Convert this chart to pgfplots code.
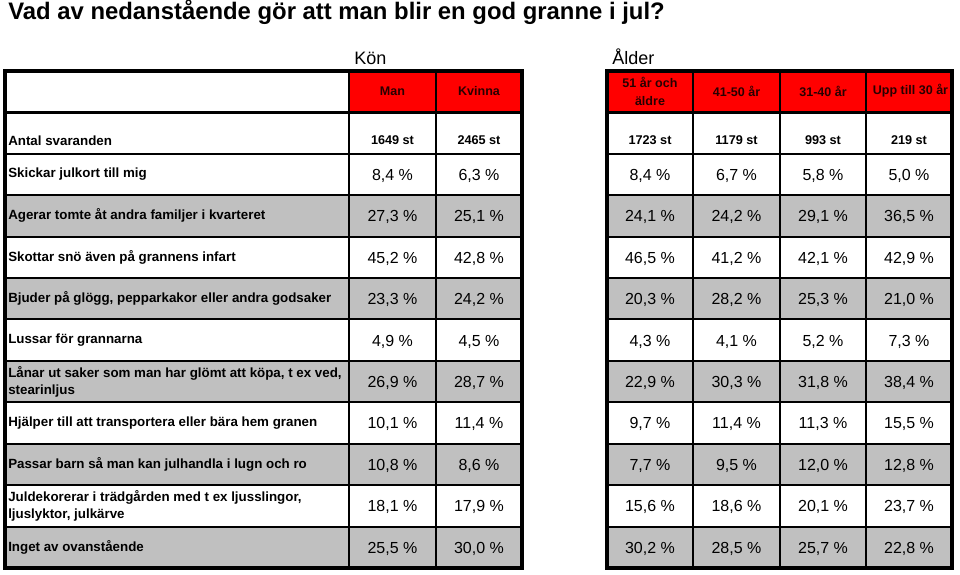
\documentclass[border=0pt]{standalone}
\usepackage{fontspec}
\setmainfont{Liberation Sans}
\usepackage{pgfplots}
\pgfplotsset{compat=1.18}
\definecolor{hdrred}{RGB}{255,0,0}
\definecolor{rowgray}{RGB}{192,192,192}
\definecolor{hdrtxt}{RGB}{40,0,0}
\protected\def\NL{\\}
\newcommand\cellfill[5]{\addplot[fill=#1,draw=none] coordinates {(#2,#3)(#4,#3)(#4,#5)(#2,#5)} -- cycle;}
\begin{document}
\begin{tikzpicture}
\begin{axis}[
  hide axis, scale only axis, width=720pt, height=429.75pt,
  xmin=0, xmax=960, ymin=0, ymax=573, y dir=reverse, clip=false,
  unbounded coords=jump,
]
% background
\cellfill{white}{0}{0}{960}{573}
% header fills
\cellfill{hdrred}{349}{70}{522}{111}
\cellfill{hdrred}{607}{70}{952}{111}
% gray rows
\cellfill{rowgray}{5}{194}{522}{235.4}
\cellfill{rowgray}{607}{194}{952}{235.4}
\cellfill{rowgray}{5}{276.8}{522}{318.3}
\cellfill{rowgray}{607}{276.8}{952}{318.3}
\cellfill{rowgray}{5}{359.7}{522}{401.2}
\cellfill{rowgray}{607}{359.7}{952}{401.2}
\cellfill{rowgray}{5}{442.6}{522}{484}
\cellfill{rowgray}{607}{442.6}{952}{484}
\cellfill{rowgray}{5}{525.5}{522}{567}
\cellfill{rowgray}{607}{525.5}{952}{567}
% thin grid lines
\addplot[black, line width=1.5pt, no marks] coordinates {
 (349,70)(349,567) (nan,nan) (436,70)(436,567) (nan,nan)
 (693,70)(693,567) (nan,nan) (780,70)(780,567) (nan,nan) (866,70)(866,567) (nan,nan)
 (5,152.5)(522,152.5) (nan,nan) (607,152.5)(952,152.5) (nan,nan)
 (5,194)(522,194) (nan,nan) (607,194)(952,194) (nan,nan)
 (5,235.4)(522,235.4) (nan,nan) (607,235.4)(952,235.4) (nan,nan)
 (5,276.8)(522,276.8) (nan,nan) (607,276.8)(952,276.8) (nan,nan)
 (5,318.3)(522,318.3) (nan,nan) (607,318.3)(952,318.3) (nan,nan)
 (5,359.7)(522,359.7) (nan,nan) (607,359.7)(952,359.7) (nan,nan)
 (5,401.2)(522,401.2) (nan,nan) (607,401.2)(952,401.2) (nan,nan)
 (5,442.6)(522,442.6) (nan,nan) (607,442.6)(952,442.6) (nan,nan)
 (5,484)(522,484) (nan,nan) (607,484)(952,484) (nan,nan)
 (5,525.5)(522,525.5) (nan,nan) (607,525.5)(952,525.5)
};
% header bottom lines
\addplot[black, line width=2.2pt, no marks] coordinates {
 (5,111)(522,111) (nan,nan) (607,111)(952,111)
};
% outer borders
\addplot[black, line width=2.6pt, no marks] coordinates {(5,70)(522,70)(522,567)(5,567)} -- cycle;
\addplot[black, line width=2.6pt, no marks] coordinates {(607,70)(952,70)(952,567)(607,567)} -- cycle;
% title
\addplot[draw=none, no marks, nodes near coords, point meta=explicit symbolic,
  every node near coord/.append style={anchor=base west, inner sep=0pt, text=black,
  font=\fontsize{17.9}{20}\selectfont\bfseries}]
  coordinates {(8,18.5) [Vad av nedanstående gör att man blir en god granne i jul?]};
% group headers
\addplot[draw=none, no marks, nodes near coords, point meta=explicit symbolic,
  every node near coord/.append style={anchor=base west, inner sep=0pt, text=black,
  font=\fontsize{13.5}{16}\selectfont}]
  coordinates {(354,63) [Kön] (612,63) [Ålder]};
% column headers
\addplot[draw=none, no marks, nodes near coords, point meta=explicit symbolic,
  every node near coord/.append style={anchor=center, inner sep=0pt, text=hdrtxt, align=center,
  font=\fontsize{9.4}{13.5}\selectfont\bfseries}]
  coordinates {(392.5,90) [Man] (479,90) [Kvinna] (650,90) [51 år och\NL äldre]
  (736.5,90) [41-50 år] (823,90) [31-40 år] (910.5,90) [Upp till 30 år]};
% row labels
\addplot[draw=none, no marks, nodes near coords, point meta=explicit symbolic,
  every node near coord/.append style={anchor=west, inner sep=0pt, text=black, align=left,
  font=\fontsize{10}{12.8}\selectfont\bfseries}]
  coordinates {
  (8,140) [Antal svaranden]
  (8,173) [Skickar julkort till mig]
  (8,214.5) [Agerar tomte åt andra familjer i kvarteret]
  (8,256) [Skottar snö även på grannens infart]
  (8,297.5) [Bjuder på glögg, pepparkakor eller andra godsaker]
  (8,339) [Lussar för grannarna]
  (8,380.5) [Lånar ut saker som man har glömt att köpa, t ex ved,\NL stearinljus]
  (8,421.5) [Hjälper till att transportera eller bära hem granen]
  (8,463) [Passar barn så man kan julhandla i lugn och ro]
  (8,504.5) [Juldekorerar i trädgården med t ex ljusslingor,\NL ljuslyktor, julkärve]
  (8,546) [Inget av ovanstående]
  };
% counts
\addplot[draw=none, no marks, nodes near coords, point meta=explicit symbolic,
  every node near coord/.append style={anchor=center, inner sep=0pt, text=black,
  font=\fontsize{9.5}{11}\selectfont\bfseries}]
  coordinates {(392.5,139.5) [1649 st] (479,139.5) [2465 st] (650,139.5) [1723 st]
  (736.5,139.5) [1179 st] (823,139.5) [993 st] (909,139.5) [219 st]};
% percentages
\addplot[draw=none, no marks, nodes near coords, point meta=explicit symbolic,
  every node near coord/.append style={anchor=center, inner sep=0pt, text=black,
  font=\fontsize{12}{14}\selectfont}]
  coordinates {
  (392.5,174.5) [8,4 \%] (479,174.5) [6,3 \%] (650,174.5) [8,4 \%] (736.5,174.5) [6,7 \%] (823,174.5) [5,8 \%] (909,174.5) [5,0 \%]
  (392.5,216) [27,3 \%] (479,216) [25,1 \%] (650,216) [24,1 \%] (736.5,216) [24,2 \%] (823,216) [29,1 \%] (909,216) [36,5 \%]
  (392.5,257.5) [45,2 \%] (479,257.5) [42,8 \%] (650,257.5) [46,5 \%] (736.5,257.5) [41,2 \%] (823,257.5) [42,1 \%] (909,257.5) [42,9 \%]
  (392.5,299) [23,3 \%] (479,299) [24,2 \%] (650,299) [20,3 \%] (736.5,299) [28,2 \%] (823,299) [25,3 \%] (909,299) [21,0 \%]
  (392.5,340.5) [4,9 \%] (479,340.5) [4,5 \%] (650,340.5) [4,3 \%] (736.5,340.5) [4,1 \%] (823,340.5) [5,2 \%] (909,340.5) [7,3 \%]
  (392.5,382) [26,9 \%] (479,382) [28,7 \%] (650,382) [22,9 \%] (736.5,382) [30,3 \%] (823,382) [31,8 \%] (909,382) [38,4 \%]
  (392.5,423) [10,1 \%] (479,423) [11,4 \%] (650,423) [9,7 \%] (736.5,423) [11,4 \%] (823,423) [11,3 \%] (909,423) [15,5 \%]
  (392.5,464.5) [10,8 \%] (479,464.5) [8,6 \%] (650,464.5) [7,7 \%] (736.5,464.5) [9,5 \%] (823,464.5) [12,0 \%] (909,464.5) [12,8 \%]
  (392.5,506) [18,1 \%] (479,506) [17,9 \%] (650,506) [15,6 \%] (736.5,506) [18,6 \%] (823,506) [20,1 \%] (909,506) [23,7 \%]
  (392.5,547.5) [25,5 \%] (479,547.5) [30,0 \%] (650,547.5) [30,2 \%] (736.5,547.5) [28,5 \%] (823,547.5) [25,7 \%] (909,547.5) [22,8 \%]
  };
\end{axis}
\end{tikzpicture}
\end{document}
